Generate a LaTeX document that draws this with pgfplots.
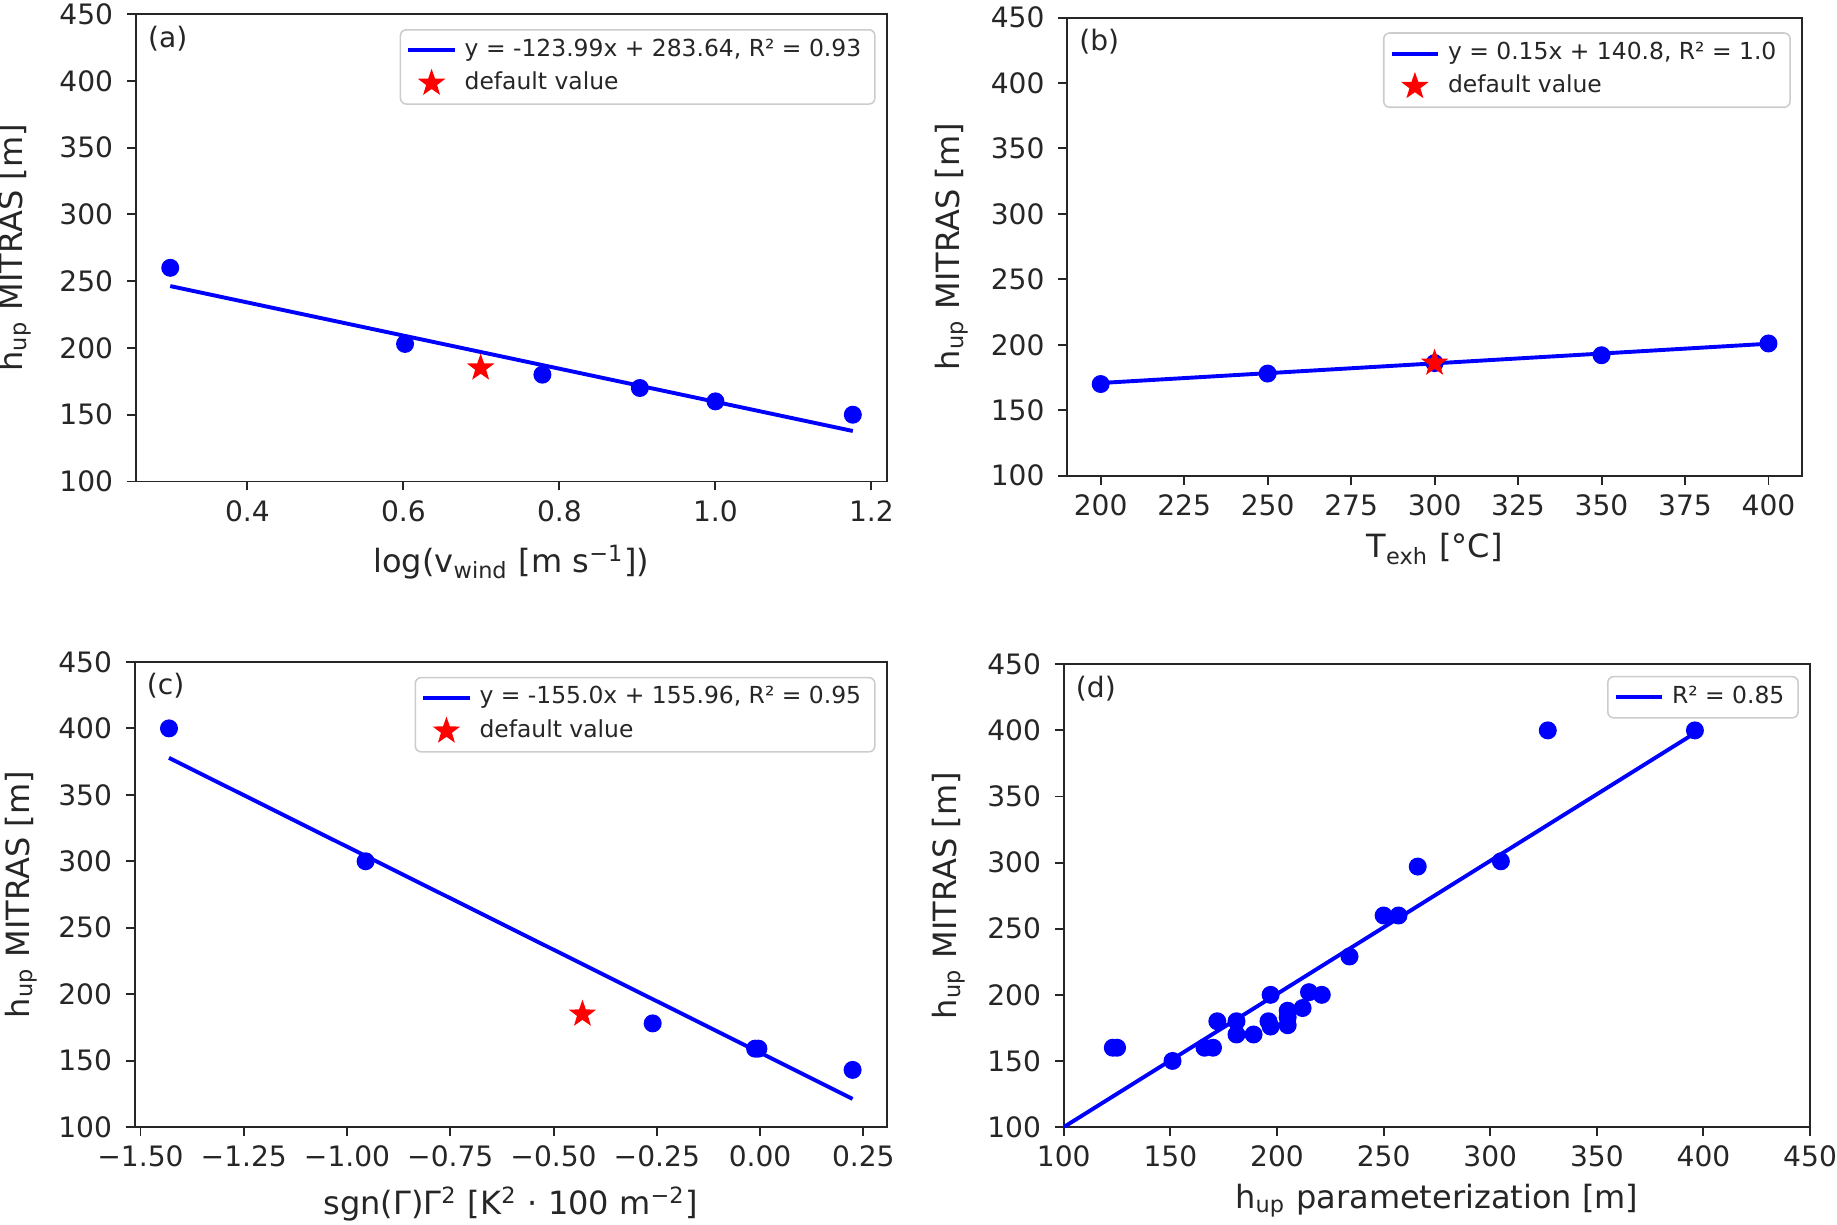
\documentclass[border=0pt]{standalone}
\usepackage{fontspec}
\setmainfont{DejaVu Sans}
\usepackage{pgfplots}
\pgfplotsset{compat=1.18}
\usetikzlibrary{plotmarks}
\pgfdeclareplotmark{fstar}{%
  \pgfpathmoveto{\pgfpointpolar{90}{\pgfplotmarksize}}%
  \pgfpathlineto{\pgfpointpolar{126}{0.40\pgfplotmarksize}}%
  \pgfpathlineto{\pgfpointpolar{162}{\pgfplotmarksize}}%
  \pgfpathlineto{\pgfpointpolar{198}{0.40\pgfplotmarksize}}%
  \pgfpathlineto{\pgfpointpolar{234}{\pgfplotmarksize}}%
  \pgfpathlineto{\pgfpointpolar{270}{0.40\pgfplotmarksize}}%
  \pgfpathlineto{\pgfpointpolar{306}{\pgfplotmarksize}}%
  \pgfpathlineto{\pgfpointpolar{342}{0.40\pgfplotmarksize}}%
  \pgfpathlineto{\pgfpointpolar{18}{\pgfplotmarksize}}%
  \pgfpathlineto{\pgfpointpolar{54}{0.40\pgfplotmarksize}}%
  \pgfpathclose
  \pgfusepathqfill
}
\newcommand{\tf}{\fontsize{7.2}{8.2}\selectfont}
\newcommand{\af}{\fontsize{8.2}{9.2}\selectfont}
\newcommand{\lf}{\fontsize{6}{7}\selectfont}
\pgfplotsset{
  panel/.style={
    scale only axis, anchor=south west,
    ymin=100, ymax=450, ytick={100,150,...,450},
    tick align=outside, xtick pos=bottom, ytick pos=left,
    major tick length=2.3pt,
    every tick/.style={black!85, line width=0.5pt},
    axis line style={black!85, line width=0.5pt},
    ticklabel style={font=\tf, black!85},
    xticklabel style={yshift=1pt},
    label style={font=\af, black!85},
    xlabel style={at={(axis description cs:0.5,-0.165)}, anchor=center},
    ylabel style={at={(axis description cs:-0.157,0.5)}, anchor=center},
    /pgf/number format/assume math mode=true,
    ylabel={h\textsubscript{up} MITRAS [m]},
    legend cell align=left,
    legend style={font=\lf, text=black!85, draw=black!20, rounded corners=1.5pt, fill=white,
      at={(0.985,0.968)}, anchor=north east, inner xsep=1.5pt, inner ysep=0.3pt,
      row sep=-1.6pt},
    legend image code/.code={\draw[#1] plot coordinates {(0cm,0cm) (0.42cm,0cm)};},
  },
  fitline/.style={blue, line width=1pt},
  dots/.style={only marks, mark=*, mark size=2.1pt, blue, forget plot},
  starpt/.style={only marks, mark=fstar, mark size=3.7pt, red,
    legend image code/.code={\draw[##1] plot coordinates {(0.21cm,0cm)};}},
}
\begin{document}
\begin{tikzpicture}
\useasboundingbox (0,0) rectangle (470.4pt,313.5pt);
% (a)
\begin{axis}[panel, at={(34.8pt,190.2pt)}, width=192.3pt, height=119.7pt,
  xmin=0.257, xmax=1.2198, xtick={0.4,0.6,...,1.2},
  xticklabel style={/pgf/number format/.cd, fixed, fixed zerofill, precision=1},
  xlabel style={at={(axis description cs:0.5,-0.173)}},
  ylabel style={at={(axis description cs:-0.162,0.5)}},
  xlabel={log(v\textsubscript{wind} [m s\textsuperscript{−1}])}]
\addplot[fitline] coordinates {(0.30103,246.32) (1.17609,137.82)};
\addlegendentry{y = -123.99x + 283.64, R² = 0.93}
\addplot[starpt] coordinates {(0.69897,185)};
\addlegendentry{default value}
\addplot[dots] coordinates {(0.30103,260) (0.60206,203) (0.77815,180) (0.90309,170) (1.0,160) (1.17609,150)};
\node[anchor=north west, font=\tf, inner sep=1pt, black!85] at (rel axis cs:0.01,0.985) {(a)};
\end{axis}
% (b)
\begin{axis}[panel, at={(273.3pt,191.7pt)}, width=188.1pt, height=117.3pt,
  xmin=190, xmax=410, xtick={200,225,...,400},
  xlabel style={at={(axis description cs:0.5,-0.16)}},
  ylabel style={at={(axis description cs:-0.158,0.5)}},
  xlabel={T\textsubscript{exh} [°C]}]
\addplot[fitline] coordinates {(200,170.8) (400,200.8)};
\addlegendentry{y = 0.15x + 140.8, R² = 1.0}
\addplot[dots] coordinates {(200,170) (250,178) (300,186) (350,192) (400,201)};
\addplot[starpt] coordinates {(300,186)};
\addlegendentry{default value}
\node[anchor=north west, font=\tf, inner sep=1pt, black!85] at (rel axis cs:0.01,0.985) {(b)};
\end{axis}
% (c)
\begin{axis}[panel, at={(34.5pt,24.9pt)}, width=192.6pt, height=119.1pt,
  xmin=-1.514, xmax=0.307, xtick={-1.5,-1.25,...,0.25},
  xticklabels={−1.50,−1.25,−1.00,−0.75,−0.50,−0.25,0.00,0.25},
  xlabel style={at={(axis description cs:0.5,-0.166)}},
  ylabel style={at={(axis description cs:-0.151,0.5)}},
  xlabel={sgn(Γ)Γ\textsuperscript{2} [K\textsuperscript{2} · 100 m\textsuperscript{−2}]}]
\addplot[fitline] coordinates {(-1.431,377.8) (0.224,121.2)};
\addlegendentry{y = -155.0x + 155.96, R² = 0.95}
\addplot[starpt] coordinates {(-0.43,185)};
\addlegendentry{default value}
\addplot[dots] coordinates {(-1.431,400) (-0.955,300) (-0.26,178) (-0.012,159) (-0.004,159) (0.224,143)};
\node[anchor=north west, font=\tf, inner sep=1pt, black!85] at (rel axis cs:0.01,0.985) {(c)};
\end{axis}
% (d)
\begin{axis}[panel, at={(272.4pt,24.9pt)}, width=191.1pt, height=118.5pt,
  xmin=100, xmax=450, xtick={100,150,...,450},
  xlabel style={at={(axis description cs:0.5,-0.16)}},
  ylabel style={at={(axis description cs:-0.154,0.5)}},
  legend style={at={(0.985,0.975)}},
  xlabel={h\textsubscript{up} parameterization [m]}]
\addplot[fitline] coordinates {(100,100) (397,399)};
\addlegendentry{R² = 0.85}
\addplot[dots] coordinates {(123,160) (125,160) (151,150) (166,160) (170,160) (172,180) (181,180) (181,170) (189,170) (197,200) (196,180) (197,176) (205,188) (205,177) (205,183) (212,190) (215,202) (221,200) (234,229) (250,260) (257,260) (266,297) (305,301) (327,400) (396,400)};
\node[anchor=north west, font=\tf, inner sep=1pt, black!85] at (rel axis cs:0.01,0.985) {(d)};
\end{axis}
\end{tikzpicture}
\end{document}
